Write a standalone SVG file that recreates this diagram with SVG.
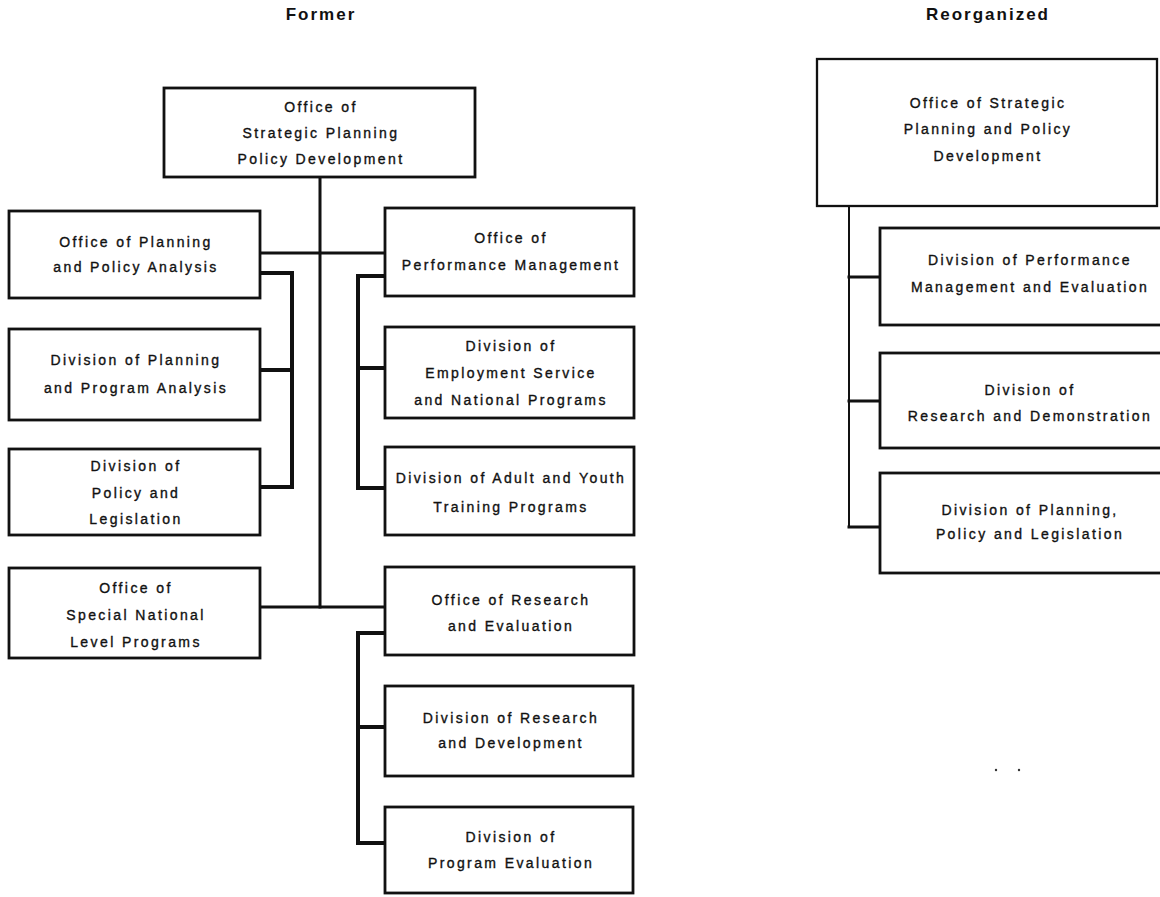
<svg xmlns="http://www.w3.org/2000/svg" width="1160" height="897" viewBox="0 0 1160 897">
<style>
.bg{fill:#fff}
.box{fill:#fff;stroke:#111;stroke-width:2.8}
.box2{fill:#fff;stroke:#111;stroke-width:2.3}
.t{font-family:"Liberation Sans",Arial,Helvetica,sans-serif;font-size:14px;letter-spacing:2.4px;fill:#111;stroke:#111;stroke-width:0.35;text-anchor:middle}
.title{font-family:"Liberation Sans",Arial,Helvetica,sans-serif;font-size:17px;font-weight:bold;letter-spacing:2px;fill:#111;text-anchor:middle}
.c{fill:none;stroke:#111;stroke-width:3;stroke-linejoin:miter;stroke-linecap:square}
.cb{fill:none;stroke:#111;stroke-width:4;stroke-linejoin:miter;stroke-linecap:square}
.ct{fill:none;stroke:#111;stroke-width:2}
.dash{fill:none;stroke:#777;stroke-width:1;stroke-dasharray:5 3}
</style>
<rect class="bg" x="0" y="0" width="1160" height="897"/>
<text class="title" x="321" y="20">Former</text>
<text class="title" x="988" y="20">Reorganized</text>

<g id="connectors">
  <path class="c" d="M320,177 V607"/>
  <path class="c" d="M260,253 H385"/>
  <path class="c" d="M260,607 H385"/>
  <path class="cb" d="M260,273 H292 V487 H260 M292,370 H260"/>
  <path class="cb" d="M385,276 H358 V488 H385 M358,368 H385"/>
  <path class="cb" d="M385,633 H358 V843 H385 M358,727 H385"/>
  <path class="ct" d="M849,206 V527"/>
  <path class="c" d="M849,277 H880 M849,401 H880 M849,527 H880"/>
  <path class="dash" d="M883,295 H908"/>
</g>

<g id="former-top">
  <rect class="box" x="164" y="88" width="311" height="89"/>
  <text class="t" x="321" y="112">Office of</text>
  <text class="t" x="321" y="138">Strategic Planning</text>
  <text class="t" x="321" y="164">Policy Development</text>
</g>
<g id="office-planning">
  <rect class="box" x="9" y="211" width="251" height="87"/>
  <text class="t" x="136" y="247">Office of Planning</text>
  <text class="t" x="136" y="272">and Policy Analysis</text>
</g>
<g id="office-performance">
  <rect class="box" x="385" y="208" width="249" height="88"/>
  <text class="t" x="511" y="243">Office of</text>
  <text class="t" x="511" y="270">Performance Management</text>
</g>
<g id="div-planning">
  <rect class="box" x="9" y="329" width="251" height="91"/>
  <text class="t" x="136" y="365">Division of Planning</text>
  <text class="t" x="136" y="393">and Program Analysis</text>
</g>
<g id="div-employment">
  <rect class="box" x="385" y="327" width="249" height="91"/>
  <text class="t" x="511" y="351">Division of</text>
  <text class="t" x="511" y="378">Employment Service</text>
  <text class="t" x="511" y="405">and National Programs</text>
</g>
<g id="div-policy">
  <rect class="box" x="9" y="449" width="251" height="86"/>
  <text class="t" x="136" y="471">Division of</text>
  <text class="t" x="136" y="498">Policy and</text>
  <text class="t" x="136" y="524">Legislation</text>
</g>
<g id="div-adult">
  <rect class="box" x="385" y="447" width="249" height="88"/>
  <text class="t" x="511" y="483">Division of Adult and Youth</text>
  <text class="t" x="511" y="512">Training Programs</text>
</g>
<g id="office-special">
  <rect class="box" x="9" y="568" width="251" height="90"/>
  <text class="t" x="136" y="593">Office of</text>
  <text class="t" x="136" y="620">Special National</text>
  <text class="t" x="136" y="647">Level Programs</text>
</g>
<g id="office-research">
  <rect class="box" x="385" y="567" width="249" height="88"/>
  <text class="t" x="511" y="605">Office of Research</text>
  <text class="t" x="511" y="631">and Evaluation</text>
</g>
<g id="div-rd">
  <rect class="box" x="385" y="686" width="248" height="90"/>
  <text class="t" x="511" y="723">Division of Research</text>
  <text class="t" x="511" y="748">and Development</text>
</g>
<g id="div-progeval">
  <rect class="box" x="385" y="807" width="248" height="86"/>
  <text class="t" x="511" y="842">Division of</text>
  <text class="t" x="511" y="868">Program Evaluation</text>
</g>

<g id="reorg-top">
  <rect class="box2" x="817" y="59" width="340" height="147"/>
  <text class="t" x="988" y="108">Office of Strategic</text>
  <text class="t" x="988" y="134">Planning and Policy</text>
  <text class="t" x="988" y="161">Development</text>
</g>
<g id="reorg-performance">
  <rect class="box" x="880" y="228" width="300" height="97"/>
  <text class="t" x="1030" y="265">Division of Performance</text>
  <text class="t" x="1030" y="292">Management and Evaluation</text>
</g>
<g id="reorg-research">
  <rect class="box" x="880" y="353" width="300" height="95"/>
  <text class="t" x="1030" y="395">Division of</text>
  <text class="t" x="1030" y="421">Research and Demonstration</text>
</g>
<g id="reorg-planning">
  <rect class="box" x="880" y="473" width="300" height="100"/>
  <text class="t" x="1030" y="515">Division of Planning,</text>
  <text class="t" x="1030" y="539">Policy and Legislation</text>
</g>
<g id="specks">
  <circle cx="996" cy="770" r="1.2" fill="#333"/>
  <circle cx="1019" cy="770" r="1.2" fill="#333"/>
</g>
</svg>
